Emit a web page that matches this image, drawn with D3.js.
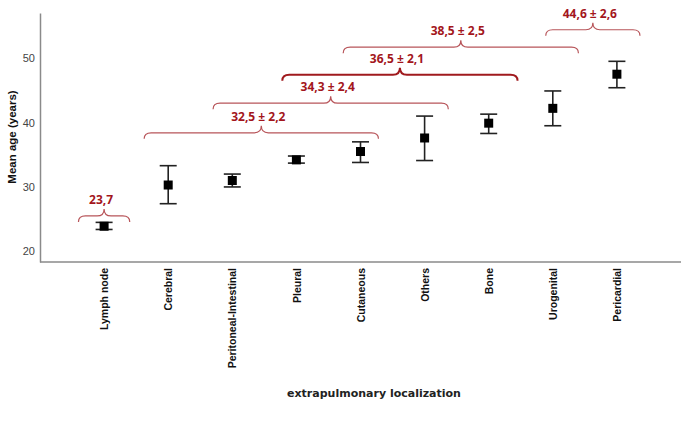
<!DOCTYPE html>
<html><head><meta charset="utf-8">
<script src="https://cdn.jsdelivr.net/npm/d3@7"></script>
<style>body{margin:0;background:#fff}svg{display:block}</style>
</head><body>
<script>
const categories = ["Lymph node","Cerebral","Peritoneal-Intestinal","Pleural","Cutaneous","Others","Bone","Urogenital","Pericardial"];
const means = [23.9, 30.3, 31.0, 34.2, 35.5, 37.6, 39.9, 42.2, 47.5];
const lower = [23.4, 27.4, 30.0, 33.7, 33.8, 34.1, 38.3, 39.5, 45.4];
const upper = [24.5, 33.3, 32.0, 34.8, 37.0, 41.0, 41.3, 44.9, 49.5];
const yTicks = [20, 30, 40, 50];

const braceLabels = ["23,7","32,5 ± 2,2","34,3 ± 2,4","36,5 ± 2,1","38,5 ± 2,5","44,6 ± 2,6"];
const braceFrom = [-0.4, 0.625, 1.70, 2.78, 3.73, 6.89];
const braceTo = [0.4, 4.28, 5.37, 6.45, 7.40, 8.36];
const braceLevel = [25.5, 38.4, 43.0, 47.4, 51.7, 54.4];
const braceStrong = [false, false, false, true, false, false];

const W = 683, H = 422;
const svg = d3.select("body").append("svg").attr("width", W).attr("height", H);

const x = d3.scalePoint().domain(categories).range([40, 681]).padding(1);
const idx = d3.scaleLinear().domain([0, categories.length - 1]).range([x(categories[0]), x(categories[categories.length - 1])]);
const y = d3.scaleLinear().domain([18.35, 57.0]).range([262, 13]);

const axisColor = "#8a8a8a";
const yAxis = svg.append("g").attr("transform", "translate(40,0)")
  .call(d3.axisLeft(y).tickValues(yTicks).tickSize(0).tickPadding(5));
yAxis.select(".domain").attr("stroke", axisColor).attr("stroke-width", 1.5);
yAxis.selectAll("text").attr("font-family", "Liberation Sans, Arial, sans-serif").attr("font-size", 11).attr("fill", "#444");

const xAxis = svg.append("g").attr("transform", "translate(0,262)")
  .call(d3.axisBottom(x).tickSize(0).tickPadding(6));
xAxis.select(".domain").attr("stroke", axisColor).attr("stroke-width", 1.5).attr("d", "M40,0H681");
xAxis.selectAll("text")
  .attr("font-family", "Liberation Sans, Arial, sans-serif").attr("font-size", 10.5).attr("font-weight", "bold").attr("fill", "#111")
  .attr("text-anchor", "end").attr("transform", "rotate(-90)")
  .attr("x", -6).attr("y", 0).attr("dy", "0.35em");

const g = svg.append("g");
const cap = 17;
categories.forEach((c, i) => {
  const cx = x(c);
  g.append("line").attr("x1", cx).attr("x2", cx).attr("y1", y(lower[i])).attr("y2", y(upper[i])).attr("stroke", "#222").attr("stroke-width", 1.6);
  [lower[i], upper[i]].forEach(v => {
    g.append("line").attr("x1", cx - cap / 2).attr("x2", cx + cap / 2).attr("y1", y(v)).attr("y2", y(v)).attr("stroke", "#222").attr("stroke-width", 1.6);
  });
  g.append("rect").attr("x", cx - 4.5).attr("y", y(means[i]) - 4.5).attr("width", 9).attr("height", 9).attr("fill", "#000");
});

const bg = svg.append("g");
braceLabels.forEach((lab, i) => {
  const x1 = idx(braceFrom[i]), x2 = idx(braceTo[i]);
  const y0 = y(braceLevel[i]);
  const xm = (x1 + x2) / 2;
  const h = 6, r = 7, t = 7;
  const p = `M${x1},${y0 + h} Q${x1},${y0} ${x1 + r},${y0} L${xm - r},${y0} Q${xm},${y0} ${xm},${y0 - t} Q${xm},${y0} ${xm + r},${y0} L${x2 - r},${y0} Q${x2},${y0} ${x2},${y0 + h}`;
  bg.append("path").attr("d", p).attr("fill", "none")
    .attr("stroke", braceStrong[i] ? "#a01a1e" : "#b8555a")
    .attr("stroke-width", braceStrong[i] ? 2 : 1.2);
  bg.append("text").attr("x", xm - 3).attr("y", y0 - 12).attr("text-anchor", "middle")
    .attr("font-family", "Open Sans, Liberation Sans, sans-serif").attr("font-weight", "bold").attr("font-size", 12)
    .attr("fill", "#a3161c").text(lab);
});

svg.append("text").attr("transform", "translate(12,137) rotate(-90)").attr("text-anchor", "middle").attr("dy", "0.35em")
  .attr("font-family", "Liberation Sans, Arial, sans-serif").attr("font-weight", "bold").attr("font-size", 11.5).attr("fill", "#111")
  .text("Mean age (years)");
svg.append("text").attr("x", 374).attr("y", 397).attr("text-anchor", "middle")
  .attr("font-family", "DejaVu Sans, Verdana, sans-serif").attr("font-weight", "bold").attr("font-size", 11).attr("fill", "#222")
  .text("extrapulmonary localization");
</script>
</body></html>
